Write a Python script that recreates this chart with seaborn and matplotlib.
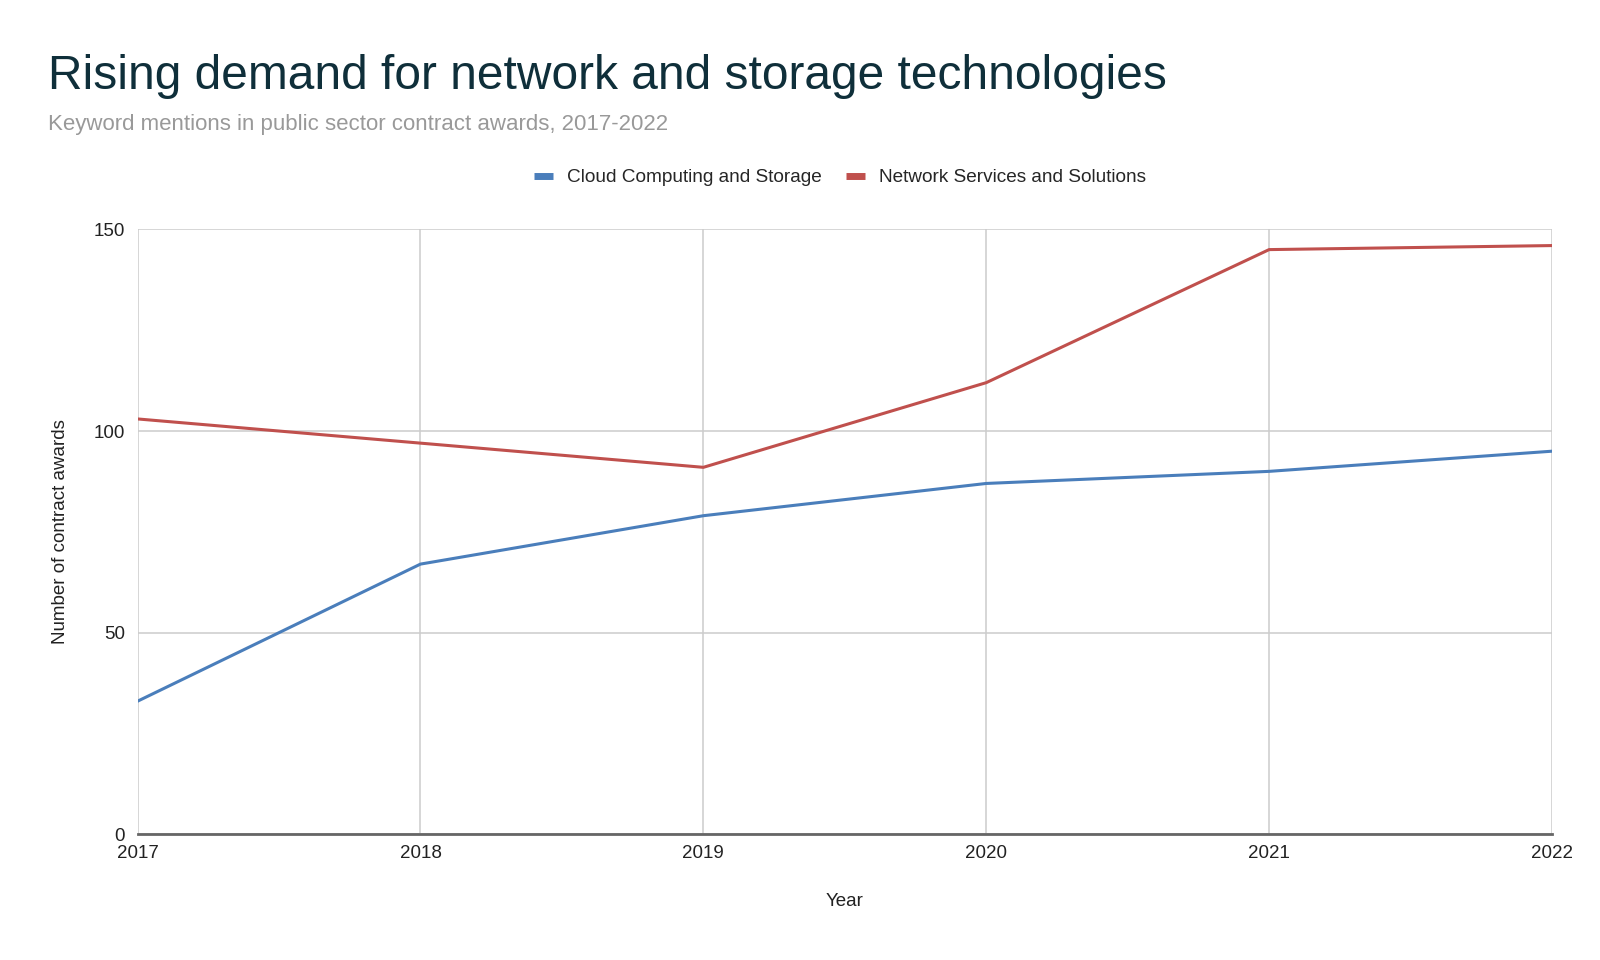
import seaborn as sns
import matplotlib.pyplot as plt
import pandas as pd

# data
years = [2017, 2018, 2019, 2020, 2021, 2022]
cloud = [33, 67, 79, 87, 90, 95]
network = [103, 97, 91, 112, 145, 146]
series_names = ["Cloud Computing and Storage", "Network Services and Solutions"]
colors = ["#4a7ebb", "#c0504d"]

df = pd.DataFrame({
    "Year": years * 2,
    "value": cloud + network,
    "series": [series_names[0]] * len(years) + [series_names[1]] * len(years),
})

sns.set_theme(style="white")
plt.rcParams["font.family"] = ["Liberation Sans", "DejaVu Sans"]

fig = plt.figure(figsize=(16, 9.6), dpi=100)
ax = fig.add_axes([0.086, 0.131, 0.884, 0.630])

sns.lineplot(data=df, x="Year", y="value", hue="series", palette=colors,
             linewidth=2.2, ax=ax, legend=False)

ax.set_xlim(2017, 2022)
ax.set_ylim(0, 150)
ax.set_xticks(years)
ax.set_xticklabels([str(y) for y in years])
ax.set_yticks([0, 50, 100, 150])
ax.grid(True, color="#cccccc", linewidth=1.1)
ax.set_axisbelow(True)
for s in ["left", "right", "top"]:
    ax.spines[s].set_visible(False)
ax.spines["bottom"].set_color("#666666")
ax.spines["bottom"].set_linewidth(2)
ax.spines["bottom"].set_zorder(5)
ax.tick_params(axis="both", length=0, labelsize=13.5, colors="#222222")
ax.tick_params(axis="x", pad=8)
ax.tick_params(axis="y", pad=9)

ax.set_xlabel("Year", fontsize=13.5, color="#222222", labelpad=22)
ax.set_ylabel("Number of contract awards", fontsize=13.5, color="#222222", labelpad=18)

fig.text(0.030, 0.920, "Rising demand for network and storage technologies",
         fontsize=34.5, color="#0f2f3a", va="center", ha="left")
fig.text(0.030, 0.870, "Keyword mentions in public sector contract awards, 2017-2022",
         fontsize=16, color="#999999", va="center", ha="left")

handles = [plt.Line2D([], [], color=c, linewidth=5, solid_capstyle="butt") for c in colors]
fig.legend(handles, series_names, loc="center", bbox_to_anchor=(0.525, 0.815),
           ncol=2, frameon=False, fontsize=13.7, handlelength=1.0,
           handletextpad=0.7, columnspacing=1.3)

fig.savefig("out.png", dpi=100, facecolor="white")
